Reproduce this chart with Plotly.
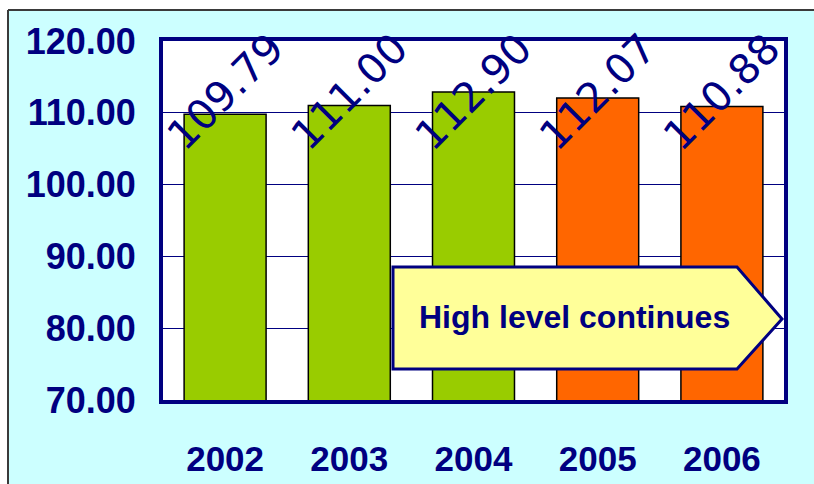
import plotly.graph_objects as go

years = ["2002", "2003", "2004", "2005", "2006"]
values = [109.79, 111.00, 112.90, 112.07, 110.88]
bar_colors = ["#99CC00", "#99CC00", "#99CC00", "#FF6600", "#FF6600"]
y_ticks = [70, 80, 90, 100, 110, 120]
callout_text = "High level continues"

NAVY = "#000080"
W, H = 814, 484
L, R, T, B = 163, 30, 41, 84
pw, ph = W - L - R, H - T - B

def px_x(x):
    return (x - L) / pw

def px_y(y):
    return (H - B - y) / ph

fig = go.Figure()
fig.add_trace(go.Bar(
    x=years, y=values, base=0,
    marker=dict(color=bar_colors, line=dict(color="#000000", width=1.5)),
    width=0.66, showlegend=False, hoverinfo="skip",
))

annotations = []
for i, v in enumerate(values):
    annotations.append(dict(
        x=i, xref="x", y=px_y(92), yref="paper",
        text=f"{v:.2f}", showarrow=False, textangle=-45,
        xanchor="center", yanchor="middle",
        font=dict(family="DejaVu Sans", size=41, color=NAVY),
    ))

annotations.append(dict(
    x=px_x(574), y=px_y(317), xref="paper", yref="paper",
    text=f"<b>{callout_text}</b>", showarrow=False,
    xanchor="center", yanchor="middle",
    font=dict(family="Liberation Sans, Arial", size=32, color=NAVY),
))

shapes = [
    dict(type="rect", xref="paper", yref="paper", x0=px_x(-50), x1=px_x(900),
         y0=px_y(10), y1=px_y(-50), fillcolor="white", line=dict(width=0), layer="below"),
    dict(type="rect", xref="paper", yref="paper", x0=px_x(-50), x1=px_x(8),
         y0=px_y(600), y1=px_y(-50), fillcolor="white", line=dict(width=0), layer="below"),
    dict(type="line", xref="paper", yref="paper", x0=px_x(8), x1=px_x(900),
         y0=px_y(10), y1=px_y(10), line=dict(color="#3a3a3a", width=2), layer="below"),
    dict(type="line", xref="paper", yref="paper", x0=px_x(8), x1=px_x(8),
         y0=px_y(10), y1=px_y(600), line=dict(color="#3a3a3a", width=2), layer="below"),
    dict(type="path", xref="paper", yref="paper",
         path=(f"M {px_x(393)} {px_y(267)} L {px_x(737)} {px_y(267)} "
               f"L {px_x(782)} {px_y(319)} L {px_x(737)} {px_y(369)} "
               f"L {px_x(393)} {px_y(369)} Z"),
         fillcolor="#FFFF99", line=dict(color=NAVY, width=3), layer="above"),
]

fig.update_layout(
    width=W, height=H,
    margin=dict(l=L, r=R, t=T, b=B, pad=0, autoexpand=False),
    paper_bgcolor="#CCFFFF", plot_bgcolor="white",
    annotations=annotations, shapes=shapes,
    xaxis=dict(
        type="category", range=[-0.5, len(years) - 0.5], autorange=False,
        automargin=False, showgrid=False, zeroline=False,
        showline=True, mirror=True, linecolor=NAVY, linewidth=4,
        ticks="", ticklabelstandoff=25,
        tickfont=dict(family="Liberation Sans, Arial", size=35, color=NAVY, weight="bold"),
    ),
    yaxis=dict(
        range=[70, 120], autorange=False, automargin=False, tickvals=y_ticks,
        ticktext=[f"{t:.2f}" for t in y_ticks],
        showgrid=True, gridcolor=NAVY, gridwidth=1, zeroline=False,
        showline=True, mirror=True, linecolor=NAVY, linewidth=4,
        ticks="", ticklabelstandoff=16,
        tickfont=dict(family="Liberation Sans, Arial", size=36, color=NAVY, weight="bold"),
    ),
)

fig.write_html("out.html")
